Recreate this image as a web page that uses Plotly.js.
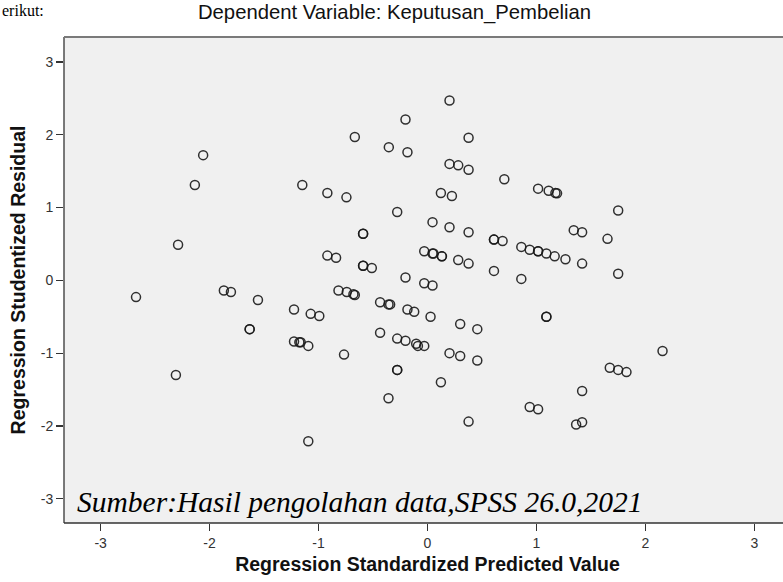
<!DOCTYPE html>
<html>
<head>
<meta charset="utf-8">
<script src="https://cdn.plot.ly/plotly-3.0.1.min.js"></script>
<style>
html,body{margin:0;padding:0;overflow:hidden;background:#fff;width:783px;height:582px;}
#chart{width:800px;height:582px;}
</style>
</head>
<body>
<div id="chart"></div>
<script>
// Regression Standardized Predicted Value (x) and Studentized Residual (y)
const predicted = [
 -0.202,-0.667,-0.355,-0.184,-2.059,-2.135,-1.149,-0.919,-0.744,-0.278,
 -0.591,-0.591,-2.289,-0.919,-0.839,-0.591,-0.591,-0.511,-0.202,
 0.202,0.377,0.202,0.282,0.377,0.705,1.015,1.112,1.174,1.189,0.123,0.224,
 1.750,0.046,0.202,0.377,1.342,1.419,0.610,0.610,0.689,1.652,
 -0.030,0.046,0.055,0.132,0.132,0.282,0.377,0.861,0.938,1.015,1.015,
 1.091,1.167,1.266,1.419,1.750,0.610,0.861,-0.030,0.046,
 -2.675,-1.869,-1.804,-1.556,-1.632,-1.632,-2.309,-1.225,-1.072,-0.993,
 -1.225,-1.176,-1.164,-1.094,-0.766,-1.094,-0.817,-0.741,-0.680,-0.667,
 -0.435,-0.358,-0.343,-0.184,-0.122,-0.435,-0.278,-0.202,-0.104,-0.088,
 -0.030,-0.278,-0.278,-0.358,0.028,0.300,0.457,1.091,1.091,0.202,0.300,
 0.457,0.123,0.377,0.938,1.015,1.419,1.364,1.419,1.673,1.750,1.826,2.157
];
const residual = [
 2.21,1.97,1.83,1.76,1.72,1.31,1.31,1.20,1.14,0.94,
 0.64,0.64,0.49,0.34,0.31,0.20,0.20,0.17,0.04,
 2.47,1.96,1.60,1.58,1.52,1.39,1.26,1.23,1.20,1.195,1.20,1.16,
 0.96,0.80,0.73,0.66,0.69,0.66,0.56,0.56,0.54,0.57,
 0.40,0.37,0.37,0.33,0.33,0.28,0.23,0.46,0.42,0.40,0.40,
 0.37,0.33,0.29,0.23,0.09,0.13,0.02,-0.04,-0.07,
 -0.23,-0.14,-0.16,-0.27,-0.67,-0.67,-1.30,-0.40,-0.46,-0.49,
 -0.84,-0.85,-0.85,-0.90,-1.02,-2.21,-0.14,-0.16,-0.19,-0.20,
 -0.30,-0.33,-0.33,-0.40,-0.43,-0.72,-0.80,-0.83,-0.87,-0.90,
 -0.90,-1.23,-1.23,-1.62,-0.50,-0.60,-0.67,-0.50,-0.50,-1.00,-1.04,
 -1.10,-1.40,-1.94,-1.74,-1.77,-1.52,-1.98,-1.95,-1.20,-1.23,-1.26,-0.97
];
const tickVals = [-3,-2,-1,0,1,2,3];
const tickText = ["-3","-2","-1","0","1","2","3"];

const trace = {
  x: predicted, y: residual, type: 'scatter', mode: 'markers',
  marker: {symbol: 'circle-open', size: 9, color: 'rgba(25,25,25,0.9)', line: {width: 1.5, color: 'rgba(25,25,25,0.9)'}},
  hoverinfo: 'skip'
};

const sans = 'Liberation Sans, Arial, sans-serif';
const tickFont = {family: sans, size: 14, color: '#333'};
const layout = {
  width: 800, height: 582,
  margin: {l: 64, r: 9, t: 37, b: 59, pad: 0},
  paper_bgcolor: '#ffffff', plot_bgcolor: '#f0f0f0',
  showlegend: false,
  title: {text: 'Dependent Variable: Keputusan_Pembelian', font: {family: sans, size: 20.3, color: '#111'},
          xref: 'container', x: 394.5/800, xanchor: 'center', yref: 'container', y: 1 - 12/582, yanchor: 'middle'},
  xaxis: {range: [-3.336, 3.336], tickvals: tickVals, ticktext: tickText, ticks: 'outside', ticklen: 7, tickwidth: 1.3, tickcolor: '#333',
          showgrid: false, zeroline: false, showline: false, tickfont: tickFont,
          title: {text: 'Regression Standardized Predicted Value', font: {family: sans, size: 19.5, color: '#111', weight: 'bold'}, standoff: 7}},
  yaxis: {range: [-3.333, 3.343], tickvals: tickVals, ticktext: tickText, ticks: 'outside', ticklen: 7, tickwidth: 1.3, tickcolor: '#333',
          showgrid: false, zeroline: false, showline: false, tickfont: tickFont,
          title: {text: 'Regression Studentized Residual', font: {family: sans, size: 19.5, color: '#111', weight: 'bold'}, standoff: 9}},
  shapes: [
    {type: 'line', xref: 'paper', yref: 'paper', x0: 0, x1: 0, y0: 0, y1: 1, line: {color: '#333', width: 1.3}},
    {type: 'line', xref: 'paper', yref: 'paper', x0: 0, x1: 1, y0: 0, y1: 0, line: {color: '#333', width: 1.3}},
    {type: 'line', xref: 'paper', yref: 'paper', x0: 0, x1: 1, y0: 1, y1: 1, line: {color: '#7a7a7a', width: 2}}
  ],
  annotations: [
    {text: 'Sumber:Hasil pengolahan data,SPSS 26.0,2021', xref: 'x', yref: 'y', x: -3.238, y: -3.04, xanchor: 'left', yanchor: 'middle',
     showarrow: false, font: {family: 'Liberation Serif, Times New Roman, serif', size: 29.5, color: '#000', style: 'italic'}},
    {text: 'erikut:', xref: 'paper', yref: 'paper', x: -64/727, y: 1 + 37/486, xanchor: 'left', yanchor: 'top',
     showarrow: false, font: {family: 'Liberation Serif, Times New Roman, serif', size: 16, color: '#000'}}
  ]
};

Plotly.newPlot('chart', [trace], layout, {displayModeBar: false, staticPlot: true});
</script>
</body>
</html>
